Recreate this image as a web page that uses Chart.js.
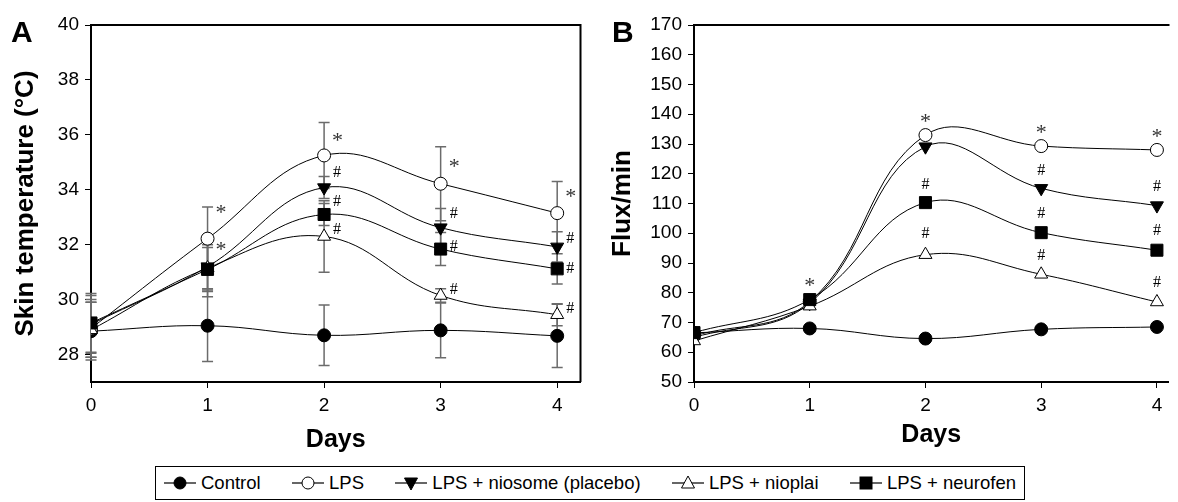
<!DOCTYPE html>
<html><head><meta charset="utf-8">
<script src="https://cdn.jsdelivr.net/npm/chart.js@4.4.1/dist/chart.umd.min.js"></script>
<style>
html,body{margin:0;padding:0;background:#fff;}
#wrap{position:relative;width:1178px;height:502px;overflow:hidden;background:#fff;font-family:"Liberation Sans",Arial,sans-serif;}
canvas{position:absolute;top:0;}
#legend{position:absolute;left:155px;top:466px;width:870px;height:34px;border:1.5px solid #000;box-sizing:border-box;display:flex;align-items:center;justify-content:space-between;padding:0 8px 0 8px;font-size:18.5px;color:#000;}
.item{display:flex;align-items:center;white-space:nowrap;}
.item svg{margin-right:5px;}
</style></head>
<body><div id="wrap">
<canvas id="cA" width="590" height="460" style="left:0px"></canvas>
<canvas id="cB" width="588" height="460" style="left:590px"></canvas>
<div id="legend"></div>
</div>
<script>
// ---------- DATA ----------
const days = [0, 1, 2, 3, 4];
const seriesNames = ['Control', 'LPS', 'LPS + niosome (placebo)', 'LPS + nioplai', 'LPS + neurofen'];

// Panel A: skin temperature (°C)
const tempControl  = [28.85, 29.05, 28.70, 28.88, 28.68];
const tempLPS      = [28.95, 32.22, 35.25, 34.22, 33.15];
const tempNiosome  = [29.10, 31.20, 34.08, 32.62, 31.92];
const tempNioplai  = [28.90, 31.15, 32.30, 30.15, 29.45];
const tempNeurofen = [29.15, 31.10, 33.10, 31.84, 31.12];
// Panel A: error bars (± SD)
const errControl  = [1.05, 1.30, 1.10, 1.00, 1.15];
const errLPS      = [1.05, 1.15, 1.20, 1.35, 1.15];
const errNiosome  = [1.05, 0.80, 0.40, 0.70, 0.55];
const errNioplai  = [1.00, 1.05, 1.30, 0.25, 0.40];
const errNeurofen = [1.07, 0.80, 0.40, 0.60, 0.55];

// Panel B: flux/min
const fluxControl  = [66.5, 68.0, 64.6, 67.7, 68.5];
const fluxLPS      = [65.5, 77.0, 133.0, 129.3, 128.0];
const fluxNiosome  = [65.0, 76.5, 129.1, 115.1, 109.3];
const fluxNioplai  = [63.8, 75.5, 92.8, 86.2, 76.9];
const fluxNeurofen = [66.6, 77.7, 110.3, 100.2, 94.3];

// Tick labels
const ticksA = [28, 30, 32, 34, 36, 38, 40];
const ticksB = [50, 60, 70, 80, 90, 100, 110, 120, 130, 140, 150, 160, 170];

// Significance marks: [day, value, symbol]
const marksA = [
  [1, 33.30, '*'], [1, 31.96, '*'],
  [2, 35.91, '*'], [2, 34.67, '#'], [2, 33.60, '#'], [2, 32.58, '#'],
  [3, 34.96, '*'], [3, 33.16, '#'], [3, 31.96, '#'], [3, 30.42, '#'],
  [4, 33.87, '*'], [4, 32.26, '#'], [4, 31.16, '#'], [4, 29.73, '#']
];
const marksB = [
  [1, 83.7, '*'],
  [2, 138.7, '*'], [2, 116.8, '#'], [2, 100.2, '#'],
  [3, 135.0, '*'], [3, 121.5, '#'], [3, 107.0, '#'], [3, 93.0, '#'],
  [4, 133.6, '*'], [4, 115.9, '#'], [4, 101.3, '#'], [4, 83.9, '#']
];

// ---------- STYLES ----------
const FONT = '"Liberation Sans", Arial, Helvetica, sans-serif';
Chart.defaults.font.family = FONT;
Chart.defaults.color = '#000';
const styles = [
  {pointStyle: 'circle',   radius: 6.5, rot: 0,   fill: '#000'},
  {pointStyle: 'circle',   radius: 6.5, rot: 0,   fill: '#fff'},
  {pointStyle: 'triangle', radius: 7.5, rot: 180, fill: '#000'},
  {pointStyle: 'triangle', radius: 7.5, rot: 0,   fill: '#fff'},
  {pointStyle: 'rect',     radius: 8.5, rot: 0,   fill: '#000'}
];

function makeDatasets(seriesList) {
  return seriesList.map((vals, i) => ({
    label: seriesNames[i],
    data: days.map((d, j) => ({x: d, y: vals[j]})),
    borderColor: '#000',
    borderWidth: 1,
    tension: 0.4,
    fill: false,
    pointStyle: styles[i].pointStyle,
    pointRadius: styles[i].radius,
    pointRotation: styles[i].rot,
    pointBackgroundColor: styles[i].fill,
    pointBorderColor: '#000',
    pointBorderWidth: 1,
    order: 5 - i
  }));
}

const errorBarPlugin = {
  id: 'errbars',
  beforeDatasetsDraw(chart, args, opts) {
    if (!opts || !opts.errors) return;
    const {ctx, scales: {x, y}} = chart;
    ctx.save();
    ctx.strokeStyle = '#6b6b6b';
    ctx.lineWidth = 1.5;
    opts.errors.forEach((errs, i) => {
      const vals = opts.values[i];
      days.forEach((d, j) => {
        const px = x.getPixelForValue(d);
        const top = y.getPixelForValue(vals[j] + errs[j]);
        const bot = y.getPixelForValue(vals[j] - errs[j]);
        ctx.beginPath();
        ctx.moveTo(px, top); ctx.lineTo(px, bot);
        ctx.moveTo(px - 5.5, top); ctx.lineTo(px + 5.5, top);
        ctx.moveTo(px - 5.5, bot); ctx.lineTo(px + 5.5, bot);
        ctx.stroke();
      });
    });
    ctx.restore();
  }
};

const framePlugin = {
  id: 'frame',
  afterDraw(chart, args, opts) {
    const {ctx, chartArea: a} = chart;
    ctx.save();
    ctx.strokeStyle = '#000';
    ctx.lineWidth = 2;
    ctx.beginPath();
    ctx.moveTo(a.left, a.top); ctx.lineTo(a.right + 1, a.top);
    if (opts.right) { ctx.moveTo(a.right, a.top); ctx.lineTo(a.right, a.bottom); }
    ctx.stroke();
    // panel letter
    ctx.fillStyle = '#000';
    ctx.font = 'bold 30px ' + FONT;
    ctx.textBaseline = 'alphabetic';
    ctx.textAlign = 'left';
    ctx.fillText(opts.letter, opts.letterX, 42);
    ctx.restore();
  }
};

const marksPlugin = {
  id: 'marks',
  afterDatasetsDraw(chart, args, opts) {
    const {ctx, scales: {x, y}} = chart;
    ctx.save();
    opts.marks.forEach(([d, v, t]) => {
      ctx.fillStyle = t === '*' ? '#333' : '#000';
      ctx.font = (t === '*' ? '22px "Liberation Serif", serif' : '16px "Liberation Serif", serif');
      const m = ctx.measureText(t);
      const px = x.getPixelForValue(d);
      const py = y.getPixelForValue(v);
      const w = m.actualBoundingBoxLeft + m.actualBoundingBoxRight;
      const left = opts.center ? px - w / 2 : px + opts.dx;
      const baseY = py + (m.actualBoundingBoxAscent - m.actualBoundingBoxDescent) / 2;
      ctx.textAlign = 'left';
      ctx.textBaseline = 'alphabetic';
      ctx.fillText(t, left + m.actualBoundingBoxLeft, baseY);
    });
    ctx.restore();
  }
};

function makeChart(canvasId, seriesList, cfg) {
  return new Chart(document.getElementById(canvasId), {
    type: 'line',
    data: {datasets: makeDatasets(seriesList)},
    plugins: [errorBarPlugin, framePlugin, marksPlugin],
    options: {
      responsive: false,
      animation: false,
      devicePixelRatio: 1,
      layout: {padding: {top: 25, right: cfg.padRight, left: 0, bottom: 0}},
      plugins: {
        legend: {display: false},
        tooltip: {enabled: false},
        errbars: cfg.errbars,
        frame: cfg.frame,
        marks: cfg.marks
      },
      scales: {
        x: {
          type: 'linear',
          min: 0, max: cfg.xMax,
          afterBuildTicks: s => { s.ticks = days.map(v => ({value: v})); },
          afterFit: s => { s.height = 78; },
          ticks: {font: {size: 19}, color: '#000', padding: 6, maxRotation: 0},
          grid: {drawOnChartArea: false, drawTicks: true, tickLength: 6, color: '#000', lineWidth: 1},
          border: {display: true, color: '#000', width: 2},
          title: {display: true, text: 'Days', font: {size: 25, weight: 'bold'}, color: '#000',
                  padding: {top: 0, bottom: cfg.xTitlePad}}
        },
        y: {
          type: 'linear',
          min: cfg.yMin, max: cfg.yMax,
          afterBuildTicks: s => { s.ticks = cfg.yTicks.map(v => ({value: v})); },
          afterFit: s => { s.width = cfg.yWidth; },
          ticks: {font: {size: 19}, color: '#000', padding: 6},
          grid: {drawOnChartArea: false, drawTicks: true, tickLength: 6, color: '#000', lineWidth: 1},
          border: {display: true, color: '#000', width: 2},
          title: {display: true, text: cfg.yTitle, font: {size: 26, weight: 'bold'}, color: '#000',
                  padding: {top: cfg.yTitlePad, bottom: 0}}
        }
      }
    }
  });
}

const seriesA = [tempControl, tempLPS, tempNiosome, tempNioplai, tempNeurofen];
const seriesB = [fluxControl, fluxLPS, fluxNiosome, fluxNioplai, fluxNeurofen];

makeChart('cA', seriesA, {
  xMax: 4.2, padRight: 3, yMin: 27, yMax: 40, yTicks: ticksA, yWidth: 91,
  yTitle: 'Skin temperature (°C)', yTitlePad: 10, xTitlePad: 5,
  errbars: {errors: [errControl, errLPS, errNiosome, errNioplai, errNeurofen], values: seriesA},
  frame: {right: true, letter: 'A', letterX: 11},
  marks: {marks: marksA, center: false, dx: 9}
});
makeChart('cB', seriesB, {
  xMax: 4.1, padRight: 1, yMin: 50, yMax: 170, yTicks: ticksB, yWidth: 104,
  yTitle: 'Flux/min', yTitlePad: 17, xTitlePad: 10,
  errbars: null,
  frame: {right: false, letter: 'B', letterX: 22},
  marks: {marks: marksB, center: true, dx: 0}
});

// ---------- LEGEND ----------
function symbolSvg(st) {
  let m = '';
  const cx = 16, cy = 9;
  if (st.pointStyle === 'circle') {
    m = `<circle cx="${cx}" cy="${cy}" r="6" fill="${st.fill}" stroke="#000" stroke-width="1"/>`;
  } else if (st.pointStyle === 'rect') {
    m = `<rect x="${cx-6}" y="${cy-6}" width="12" height="12" fill="${st.fill}" stroke="#000" stroke-width="1"/>`;
  } else if (st.rot === 180) {
    m = `<polygon points="${cx-6.5},${cy-5} ${cx+6.5},${cy-5} ${cx},${cy+7}" fill="${st.fill}" stroke="#000" stroke-width="1"/>`;
  } else {
    m = `<polygon points="${cx-6.5},${cy+5} ${cx+6.5},${cy+5} ${cx},${cy-7}" fill="${st.fill}" stroke="#000" stroke-width="1"/>`;
  }
  return `<svg width="32" height="18" viewBox="0 0 32 18"><line x1="0" y1="${cy}" x2="32" y2="${cy}" stroke="#000" stroke-width="1.2"/>${m}</svg>`;
}
const legendEl = document.getElementById('legend');
seriesNames.forEach((name, i) => {
  const it = document.createElement('div');
  it.className = 'item';
  it.innerHTML = symbolSvg(styles[i]) + '<span>' + name + '</span>';
  legendEl.appendChild(it);
});
</script>
</body></html>
